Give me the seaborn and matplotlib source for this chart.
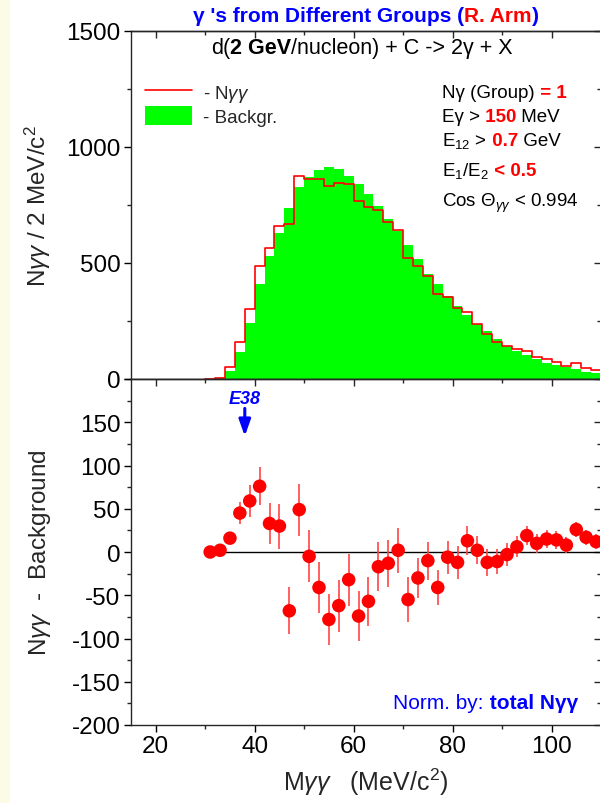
import numpy as np
import pandas as pd
import matplotlib
matplotlib.use("Agg")
import matplotlib.pyplot as plt
from matplotlib.lines import Line2D
from matplotlib.patches import Patch, Rectangle
from matplotlib.transforms import IdentityTransform
from matplotlib.ticker import MultipleLocator, FuncFormatter
import seaborn as sns

# ---------------------------------------------------------------- data
# centres of the 2 MeV/c^2 invariant-mass bins
mass = np.arange(31, 110, 2)

# mixed-event background per bin
background = [2, 4, 36, 115, 241, 410, 532, 629, 736, 826,
              869, 902, 912, 905, 873, 840, 797, 747, 690, 639,
              578, 517, 453, 409, 359, 316, 275, 237, 205, 172,
              144, 122, 103, 85, 70, 60, 50, 43, 30, 28]

# N_gg - background per bin and its statistical error
excess = [0, 2, 16, 45, 59, 76, 33, 30, -68, 49,
          -5, -41, -78, -62, -32, -74, -57, -17, -13, 2,
          -55, -30, -10, -41, -6, -12, 13, 2, -12, -11,
          -3, 6, 19, 10, 15, 14, 8, 26, 17, 12]
excess_err = [3, 4, 6, 13, 18, 22, 24, 26, 27, 30,
              30, 30, 30, 30, 30, 29, 28, 28, 27, 26,
              26, 23, 22, 20, 19, 19, 17, 16, 16, 15,
              13, 12, 11, 11, 10, 10, 9, 9, 9, 9]

# measured two-photon spectrum = background + excess
n_gg = np.array(background) + np.array(excess)

df = pd.DataFrame({"mass": mass, "background": background,
                   "n_gg": n_gg, "excess": excess})

# ---------------------------------------------------------------- style
sns.set_style("ticks")
plt.rcParams["font.family"] = ["Liberation Sans", "DejaVu Sans"]
plt.rcParams["mathtext.fontset"] = "custom"
plt.rcParams["mathtext.rm"] = "Liberation Sans"
plt.rcParams["mathtext.it"] = "Liberation Sans:italic"
plt.rcParams["mathtext.bf"] = "Liberation Sans:bold"
plt.rcParams["axes.linewidth"] = 1.0
plt.rcParams["axes.unicode_minus"] = False

BLUE = "#0000FF"
RED = "#FF0000"
GREEN = "#00FF00"
W, H, DPI = 600, 804, 100
TICK_FS = 17.5
LABEL_FS = 17.5

fig = plt.figure(figsize=(W / DPI, H / DPI), dpi=DPI, facecolor="white")
fig.patches.append(Rectangle((0, 0), 10 / W, 1, transform=fig.transFigure,
                             facecolor="#FBFBE6", edgecolor="none", zorder=-10))

x0, x1 = 131, 601
ax1 = fig.add_axes([x0 / W, 1 - 380 / H, (x1 - x0) / W, 348 / H])
ax2 = fig.add_axes([x0 / W, 1 - 726 / H, (x1 - x0) / W, 346 / H])


def style_axis(ax, ymaj, ymin, show_xlabels):
    ax.set_xlim(15, 110)
    ax.xaxis.set_major_locator(MultipleLocator(20))
    ax.xaxis.set_minor_locator(MultipleLocator(10))
    ax.yaxis.set_major_locator(MultipleLocator(ymaj))
    ax.yaxis.set_minor_locator(MultipleLocator(ymin))
    ax.tick_params(which="major", direction="out", length=5, width=1,
                   labelsize=TICK_FS, pad=2.5, colors="black")
    ax.tick_params(which="minor", direction="out", length=3, width=1)
    ax.tick_params(axis="x", labelbottom=show_xlabels)
    for side in ("top", "right"):
        ax.spines[side].set_visible(True)
    # mirrored inward ticks on top and right
    sx = ax.secondary_xaxis("top")
    sx.xaxis.set_major_locator(MultipleLocator(20))
    sx.xaxis.set_minor_locator(MultipleLocator(10))
    sy = ax.secondary_yaxis("right")
    sy.yaxis.set_major_locator(MultipleLocator(ymaj))
    sy.yaxis.set_minor_locator(MultipleLocator(ymin))
    for sec in (sx, sy):
        sec.tick_params(which="major", direction="in", length=5, width=1)
        sec.tick_params(which="minor", direction="in", length=3, width=1)
    sx.tick_params(labeltop=False)
    sy.tick_params(labelright=False)


# ---------------------------------------------------------------- top panel
sns.histplot(data=df, x="mass", weights="background", binwidth=2,
             binrange=(30, 110), element="step", fill=True, color=GREEN,
             alpha=1, linewidth=0, ax=ax1)
sns.histplot(data=df, x="mass", weights="n_gg", binwidth=2,
             binrange=(30, 110), element="step", fill=False, color=RED,
             linewidth=1.2, ax=ax1)
ax1.set_ylim(0, 1500)
style_axis(ax1, 500, 250, False)
ax1.set_xlabel("")
ax1.set_ylabel("N$γγ$ / 2 MeV/c$^2$", fontsize=LABEL_FS)
ax1.yaxis.set_label_coords(-0.165, 0.5)

ax1.legend(handles=[Line2D([0], [0], color=RED, lw=1.2),
                    Patch(facecolor=GREEN, edgecolor="none")],
           labels=["- N$γγ$", "- Backgr."],
           loc="upper left", bbox_to_anchor=(0.03, 0.853), frameon=False,
           fontsize=13.5, handlelength=2.5, handleheight=1.15,
           handletextpad=0.6, labelspacing=0.12, borderpad=0,
           borderaxespad=0)

# ---------------------------------------------------------------- bottom panel
ax2.hlines(0, mass[0], 110, color="black", lw=1, zorder=2)
ax2.errorbar(mass, excess, yerr=excess_err, fmt="none", ecolor="#FF4444",
             elinewidth=1.2, capsize=0, zorder=3)
sns.scatterplot(data=df, x="mass", y="excess", color=RED, s=95,
                edgecolor="none", zorder=4, ax=ax2, legend=False)
ax2.set_ylim(-200, 200)
style_axis(ax2, 50, 25, True)
# the upper panel's "0" already sits at the shared edge
ax2.yaxis.set_major_formatter(
    FuncFormatter(lambda v, _: "" if v >= 200 else f"{v:.0f}"))
ax2.set_xlabel("M$γγ$   (MeV/c$^2$)", fontsize=18, labelpad=6)
ax2.set_ylabel("N$γγ$  -  Background", fontsize=LABEL_FS)
ax2.yaxis.set_label_coords(-0.165, 0.5)

ax2.annotate("", xy=(38, 134), xytext=(38, 166),
             arrowprops=dict(arrowstyle="-|>,head_length=0.7,head_width=0.25",
                             color=BLUE, lw=2.2, mutation_scale=14,
                             shrinkA=0, shrinkB=0))
ax2.text(38, 177, "E38", ha="center", va="center", color=BLUE,
         fontsize=13, fontweight="bold", fontstyle="italic")

# ---------------------------------------------------------------- rich text
renderer = fig.canvas.get_renderer()


def rich_text(x_px, y_px, pieces, size, ha="left"):
    """Draw differently coloured/weighted pieces side by side on one baseline.
    x_px, y_px are pixel positions measured from the top-left corner."""
    arts = []
    for s, color, weight in pieces:
        t = fig.text(0, 0, s, color=color, fontweight=weight, fontsize=size,
                     va="baseline", ha="left", transform=IdentityTransform())
        arts.append(t)
    widths = [t.get_window_extent(renderer).width for t in arts]
    total = sum(widths)
    start = x_px - {"left": 0, "center": total / 2, "right": total}[ha]
    cur = start
    for t, w in zip(arts, widths):
        t.set_position((cur, H - y_px))
        cur += w


rich_text(366, 22, [("γ 's from Different Groups (", BLUE, "bold"),
                    ("R. Arm", RED, "bold"), (")", BLUE, "bold")], 15,
          ha="center")
rich_text(362, 54, [("d(", "black", "normal"), ("2 GeV", "black", "bold"),
                    ("/nucleon) + C -> 2γ + X", "black", "normal")], 15.5,
          ha="center")

BFS = 13.5
rich_text(442, 98, [("Nγ (Group)", "black", "normal"),
                    (" = 1", RED, "bold")], BFS)
rich_text(442, 122, [("Eγ >", "black", "normal"), (" 150", RED, "bold"),
                     (" MeV", "black", "normal")], BFS)
rich_text(442, 146, [("E$_{12}$ >", "black", "normal"), (" 0.7", RED, "bold"),
                     (" GeV", "black", "normal")], BFS)
rich_text(442, 176, [("E$_1$/E$_2$", "black", "normal"),
                      (" < 0.5", RED, "bold")], BFS)
rich_text(442, 207, [("Cos Θ$_{γγ}$ < 0.994", "black", "normal")], BFS)

rich_text(578, 709, [("Norm. by:", BLUE, "normal"),
                     (" total Nγγ", BLUE, "bold")], 15, ha="right")

fig.savefig("out.png", dpi=DPI, facecolor="white")
